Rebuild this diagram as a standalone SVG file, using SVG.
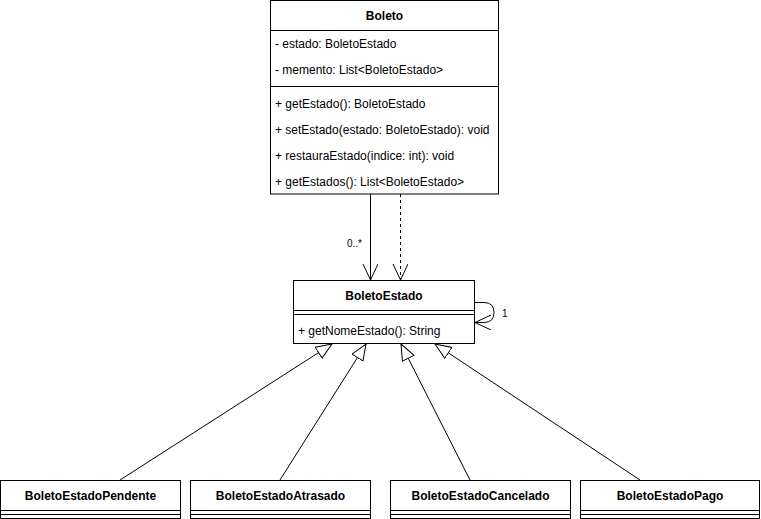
<svg xmlns="http://www.w3.org/2000/svg" width="761" height="519" viewBox="0 0 761 519">
<style>
.box{fill:#fff;stroke:#000;stroke-width:1}
.ln{stroke:#000;stroke-width:1;fill:none}
.t{font-family:"Liberation Sans",Arial,sans-serif;font-size:12px;fill:#000}
.s{font-family:"Liberation Sans",Arial,sans-serif;font-size:10px;fill:#000}
.b{font-family:"Liberation Sans",Arial,sans-serif;font-size:12px;font-weight:bold;fill:#000;text-anchor:middle}
</style>
<defs>
<marker id="open" markerUnits="userSpaceOnUse" markerWidth="18" markerHeight="16" refX="16" refY="7.5" orient="auto" viewBox="0 0 18 16">
<path d="M0,0 L16,7.5 L0,15" fill="none" stroke="#000" stroke-width="1"/>
</marker>
<marker id="tri" markerUnits="userSpaceOnUse" markerWidth="18" markerHeight="16" refX="16.5" refY="7" orient="auto" viewBox="0 0 18 16">
<path d="M0.5,0.5 L16.5,7 L0.5,13.5 Z" fill="#fff" stroke="#000" stroke-width="1"/>
</marker>
</defs>
<g id="connectors">
<line class="ln" x1="370.5" y1="194" x2="370.5" y2="280" marker-end="url(#open)"/>
<text class="s" x="347" y="247">0..*</text>
<line class="ln" x1="400.5" y1="194" x2="400.5" y2="280" stroke-dasharray="3 3" marker-end="url(#open)"/>
<path class="ln" d="M474.5,302.5 L484,302.5 Q494,302.5 494,312.5 Q494,322.5 484,322.5 L475,322.5" marker-end="url(#open)"/>
<text class="s" x="502" y="317">1</text>
<line class="ln" x1="120" y1="480" x2="332" y2="344" marker-end="url(#tri)"/>
<line class="ln" x1="280" y1="480" x2="366" y2="344" marker-end="url(#tri)"/>
<line class="ln" x1="470" y1="480" x2="401" y2="344" marker-end="url(#tri)"/>
<line class="ln" x1="640" y1="480" x2="435" y2="344" marker-end="url(#tri)"/>
</g>
<g id="Boleto">
<rect class="box" x="270.5" y="0.5" width="228" height="193.5"/>
<line class="ln" x1="270.5" y1="30.5" x2="498.5" y2="30.5"/>
<line class="ln" x1="270.5" y1="86.5" x2="498.5" y2="86.5"/>
<text class="b" x="384.5" y="19.5">Boleto</text>
<text class="t" x="275" y="47.5">- estado: BoletoEstado</text>
<text class="t" x="275" y="73.5">- memento: List&lt;BoletoEstado&gt;</text>
<text class="t" x="275" y="107.5">+ getEstado(): BoletoEstado</text>
<text class="t" x="275" y="133.5">+ setEstado(estado: BoletoEstado): void</text>
<text class="t" x="275" y="159.5">+ restauraEstado(indice: int): void</text>
<text class="t" x="275" y="185.5">+ getEstados(): List&lt;BoletoEstado&gt;</text>
</g>
<g id="BoletoEstado">
<rect class="box" x="293.5" y="280.5" width="181" height="63"/>
<line class="ln" x1="293.5" y1="310.5" x2="474.5" y2="310.5"/>
<line class="ln" x1="293.5" y1="314.5" x2="474.5" y2="314.5"/>
<text class="b" x="384" y="299.5">BoletoEstado</text>
<text class="t" x="298" y="335">+ getNomeEstado(): String</text>
</g>
<g id="BoletoEstadoPendente">
<rect class="box" x="0.5" y="480.5" width="180" height="38"/>
<line class="ln" x1="0.5" y1="510.5" x2="180.5" y2="510.5"/>
<line class="ln" x1="0.5" y1="514.5" x2="180.5" y2="514.5"/>
<text class="b" x="90.5" y="499.5">BoletoEstadoPendente</text>
</g>
<g id="BoletoEstadoAtrasado">
<rect class="box" x="190.5" y="480.5" width="180" height="38"/>
<line class="ln" x1="190.5" y1="510.5" x2="370.5" y2="510.5"/>
<line class="ln" x1="190.5" y1="514.5" x2="370.5" y2="514.5"/>
<text class="b" x="280.5" y="499.5">BoletoEstadoAtrasado</text>
</g>
<g id="BoletoEstadoCancelado">
<rect class="box" x="390.5" y="480.5" width="180" height="38"/>
<line class="ln" x1="390.5" y1="510.5" x2="570.5" y2="510.5"/>
<line class="ln" x1="390.5" y1="514.5" x2="570.5" y2="514.5"/>
<text class="b" x="480.5" y="499.5">BoletoEstadoCancelado</text>
</g>
<g id="BoletoEstadoPago">
<rect class="box" x="580.5" y="480.5" width="179" height="38"/>
<line class="ln" x1="580.5" y1="510.5" x2="759.5" y2="510.5"/>
<line class="ln" x1="580.5" y1="514.5" x2="759.5" y2="514.5"/>
<text class="b" x="670" y="499.5">BoletoEstadoPago</text>
</g>
</svg>
